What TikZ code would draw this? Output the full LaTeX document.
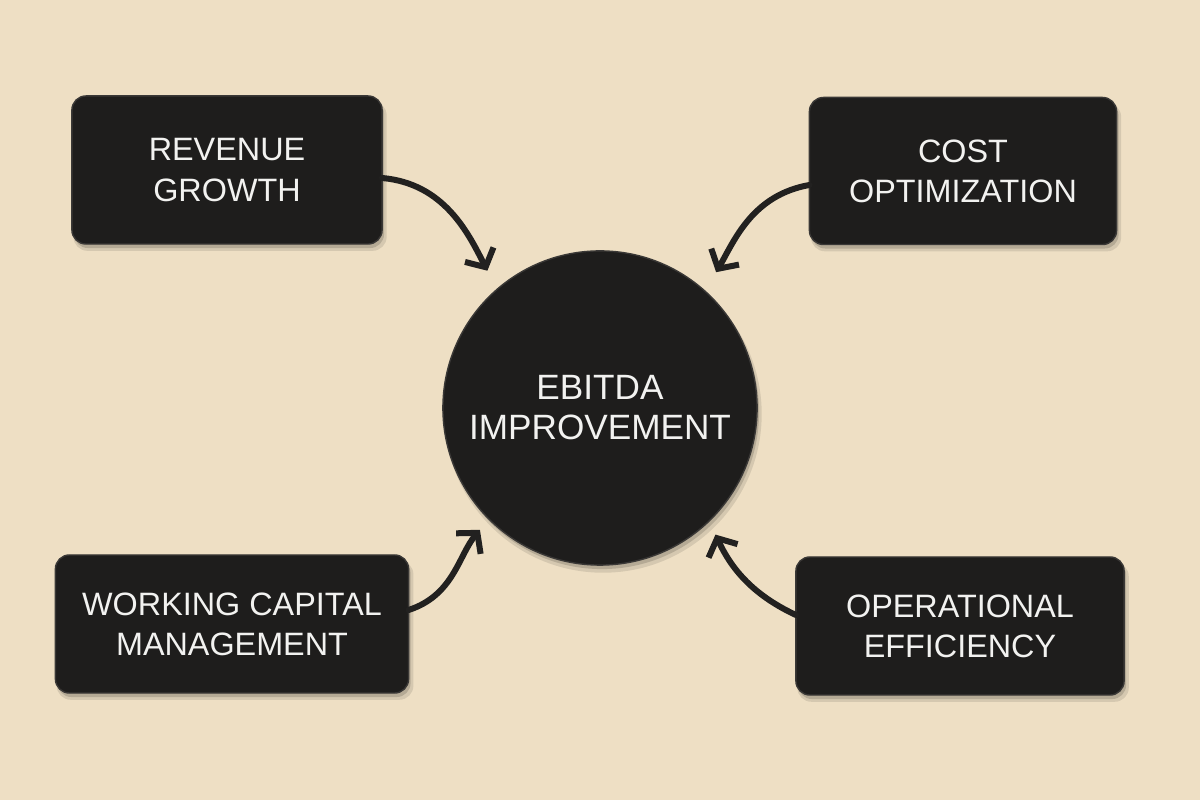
\documentclass[tikz,border=0pt]{standalone}
\usepackage{fontspec}
\setmainfont{Liberation Sans}
\usetikzlibrary{arrows.meta,shadows}
\definecolor{bgc}{HTML}{EEDFC4}
\definecolor{boxc}{HTML}{1E1D1C}
\definecolor{edgec}{HTML}{3A3836}
\definecolor{txtc}{HTML}{F2F2F0}
\definecolor{arrc}{HTML}{222120}
\tikzset{
  softshadow/.style={
    general shadow={fill=black, opacity=0.10, shadow xshift=0.03cm, shadow yshift=-0.06cm, shadow scale=1.01},
    general shadow={fill=black, opacity=0.15, shadow xshift=0.02cm, shadow yshift=-0.04cm}},
  card/.style={rectangle, rounded corners=0.14cm, fill=boxc, draw=edgec, line width=0.4pt,
    text=txtc, align=center, outer sep=0pt,
    font=\fontsize{9.2}{11.4}\selectfont, softshadow},
  hub/.style={circle, fill=boxc, draw=edgec, line width=0.4pt, text=txtc, align=center,
    minimum size=3.14cm, inner sep=0pt, outer sep=0pt,
    font=\fontsize{10}{11.4}\selectfont, softshadow},
  link/.style={draw=arrc, line width=0.06cm, line cap=round,
    -{Straight Barb[length=0.14cm,width=0.32cm]}}
}
\begin{document}
\begin{tikzpicture}[x=0.01cm,y=0.01cm]
\fill[bgc] (0,0) rectangle (1200,800);
\useasboundingbox (0,0) rectangle (1200,800);
\node[card, minimum width=3.10cm, minimum height=1.48cm] (rg) at (227,630) {REVENUE\\GROWTH};
\node[card, minimum width=3.07cm, minimum height=1.47cm] (co) at (963,629) {COST\\OPTIMIZATION};
\node[card, minimum width=3.53cm, minimum height=1.38cm] (wc) at (232,176) {WORKING CAPITAL\\MANAGEMENT};
\node[card, minimum width=3.28cm, minimum height=1.38cm] (oe) at (960,174) {OPERATIONAL\\EFFICIENCY};
\node[hub] (eb) at (600,392) {EBITDA\\IMPROVEMENT};
\draw[link, shorten >=0.21cm] ([yshift=-0.08cm]rg.east) to[out=-5,in=117] (eb.131);
\draw[link, shorten >=0.22cm] ([yshift=-0.14cm]co.west) to[out=190,in=60] (eb.48);
\draw[link, shorten >=0.14cm] ([yshift=0.14cm]wc.east) to[out=18,in=230] (eb.225);
\draw[link, shorten >=0.15cm] ([yshift=0.11cm]oe.west) to[out=155,in=-65] (eb.314);
\end{tikzpicture}
\end{document}
